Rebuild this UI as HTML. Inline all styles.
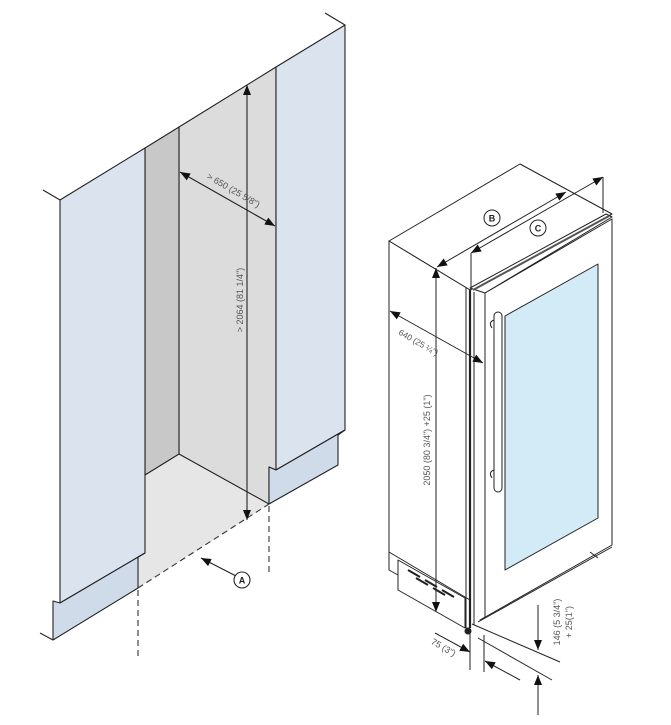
<!DOCTYPE html>
<html><head><meta charset="utf-8"><style>
html,body{margin:0;padding:0;background:#fff;}
svg{display:block;}
text{font-family:"Liberation Sans",sans-serif;font-size:9px;fill:#555;}
</style></head><body>
<svg width="671" height="725" viewBox="0 0 671 725" xmlns="http://www.w3.org/2000/svg">
<defs>
<marker id="ah" viewBox="0 0 10 10" refX="10" refY="5" markerWidth="12" markerHeight="10" markerUnits="userSpaceOnUse" orient="auto-start-reverse"><path d="M0,1 L10,5 L0,9 z" fill="#111"/></marker>
</defs>
<g stroke="#222" stroke-width="1.1" fill="none" stroke-linejoin="round">
<polygon points="145,475 179,454 269,504 138,588 138,557 145,553" fill="#e6e6e6" stroke="none"/>
<polygon points="179,127 276,67 276,470 269,467 269,504 179,454" fill="#dcdcdc"/>
<polygon points="145,148 179,127 179,454 145,475" fill="#c8c8c8"/>
<polygon points="60,200 145,148 145,553 60,603" fill="#dbe3ef"/>
<polygon points="53,601 60,603 145,553 138,557 138,588 53,640" fill="#d0dbea"/>
<line x1="40" y1="633" x2="53" y2="640"/>
<polygon points="276,67 345,25 345,430 276,470" fill="#dbe3ef"/>
<polygon points="269,467 276,470 345,430 338,435 338,465 269,504" fill="#d0dbea"/>
<line x1="60" y1="200" x2="43" y2="190"/>
<line x1="345" y1="25" x2="325" y2="13"/>
<g stroke="#333" stroke-dasharray="6,4">
<line x1="138" y1="588" x2="269" y2="504"/>
<line x1="138" y1="590" x2="138" y2="660"/>
<line x1="269" y1="506" x2="269" y2="575"/>
</g>
<line x1="247" y1="85" x2="247" y2="520" marker-start="url(#ah)" marker-end="url(#ah)"/>
<line x1="180" y1="172" x2="275" y2="226" marker-start="url(#ah)" marker-end="url(#ah)"/>
<line x1="236" y1="576" x2="201" y2="558" marker-end="url(#ah)"/>
<circle cx="242" cy="580" r="8" fill="#fff"/>
</g>
<text x="242" y="583.5" text-anchor="middle" style="font-size:9px;font-weight:bold;fill:#222">A</text>
<text transform="translate(243,300) rotate(-90)" text-anchor="middle">&gt; 2064 (81 1/4")</text>
<text transform="translate(232,193) rotate(30)" text-anchor="middle">&gt; 650 (25 5/8")</text>

<g stroke="#222" stroke-width="1" fill="none" stroke-linejoin="round">
<polygon points="389,241 520,164 612,214 470,290" fill="#fff"/>
<polygon points="389,241 470,290 470,600 389,552" fill="#fff"/>
<polyline points="389,552 389,570 398,575"/>
<polygon points="398,560 465,598 465,628 398,590" fill="#fff"/>
<g stroke-width="2">
<line x1="408" y1="570" x2="420" y2="577"/><line x1="425" y1="580" x2="437" y2="587"/><line x1="442" y1="590" x2="454" y2="597"/>
<line x1="416" y1="578" x2="428" y2="585"/><line x1="433" y1="588" x2="445" y2="595"/>
</g>
<line x1="466" y1="287" x2="466" y2="628"/>
<line x1="470" y1="290" x2="470" y2="628" stroke-width="2.2"/>
<line x1="474" y1="292" x2="474" y2="625"/>
<polygon points="470,288 606,214 612,217 485,293" fill="#fff" stroke-width="1"/>
<line x1="473" y1="290" x2="609" y2="216" stroke-width="2" stroke="#555"/>
<polygon points="485,293 612,219 612,545 480,620 485,617" fill="#fff"/>
<line x1="485" y1="293" x2="485" y2="617"/>
<line x1="478" y1="622" x2="612" y2="547"/>
<polygon points="505,316 598,264 598,518 505,570" fill="#d3ebf7"/>
<rect x="494" y="312" width="8" height="180" rx="4" fill="#fff"/>
<path d="M494,320 q-6,2 -2,8 M494,470 q-6,2 -2,8"/>
<circle cx="468" cy="631" r="3" fill="#222"/>
<line x1="590" y1="552" x2="598" y2="558"/>
<line x1="436" y1="268" x2="436" y2="612" marker-start="url(#ah)" marker-end="url(#ah)"/>
<line x1="390" y1="311" x2="483" y2="363" marker-start="url(#ah)" marker-end="url(#ah)"/>
<line x1="437" y1="267" x2="566" y2="192" marker-start="url(#ah)" marker-end="url(#ah)"/>
<line x1="471" y1="253" x2="603" y2="177" marker-start="url(#ah)" marker-end="url(#ah)"/>
<line x1="603" y1="177" x2="603" y2="213"/>
<line x1="471" y1="253" x2="471" y2="290"/>
<line x1="470" y1="633" x2="470" y2="670"/>
<line x1="484" y1="635" x2="484" y2="672"/>
<line x1="435" y1="633" x2="470" y2="652" marker-end="url(#ah)"/>
<line x1="520" y1="680" x2="485" y2="661" marker-end="url(#ah)"/>
<line x1="472" y1="624" x2="560" y2="662"/>
<line x1="478" y1="638" x2="552" y2="680"/>
<line x1="538" y1="605" x2="538" y2="650" marker-end="url(#ah)"/>
<line x1="538" y1="715" x2="538" y2="675" marker-end="url(#ah)"/>
<circle cx="492" cy="218" r="8" fill="#fff"/>
<circle cx="538" cy="228" r="8" fill="#fff"/>
</g>
<text x="492" y="221.5" text-anchor="middle" style="font-weight:bold;fill:#222">B</text>
<text x="538" y="231.5" text-anchor="middle" style="font-weight:bold;fill:#222">C</text>
<text transform="translate(430,440) rotate(-90)" text-anchor="middle">2050 (80 3/4") +25 (1")</text>
<text transform="translate(417,345) rotate(30)" text-anchor="middle" style="font-size:8.5px">640 (25 ¼")</text>
<text transform="translate(442,650) rotate(30)" text-anchor="middle">75 (3")</text>
<text transform="translate(560,622) rotate(-90)" text-anchor="middle">146 (5 3/4")</text>
<text transform="translate(572,622) rotate(-90)" text-anchor="middle">+ 25(1")</text>
</svg>
</body></html>
